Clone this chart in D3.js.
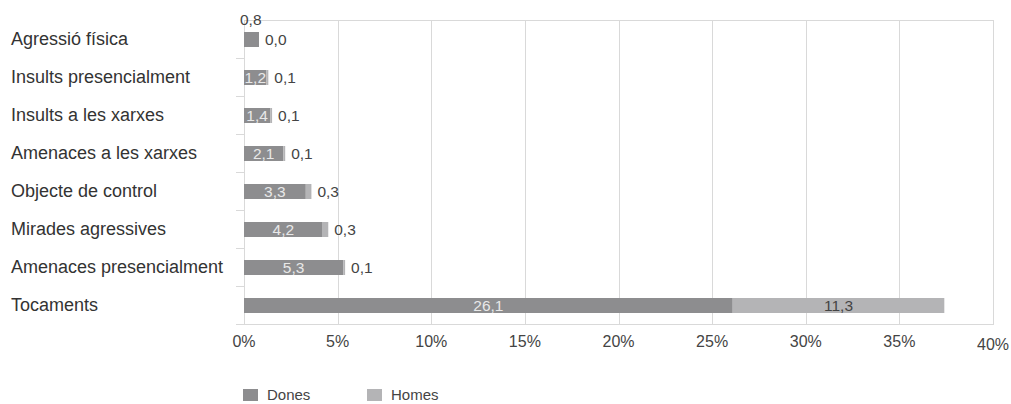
<!DOCTYPE html>
<html><head><meta charset="utf-8">
<script src="https://cdn.jsdelivr.net/npm/d3@7"></script>
<style>body{margin:0;background:#fff}text{font-family:"Liberation Sans",Arial,Helvetica,sans-serif}</style>
</head><body><svg id="c" width="1011" height="404"></svg>
<script>
const categories = ["Agressió física","Insults presencialment","Insults a les xarxes","Amenaces a les xarxes","Objecte de control","Mirades agressives","Amenaces presencialment","Tocaments"];
const dones = [0.8,1.2,1.4,2.1,3.3,4.2,5.3,26.1];
const homes = [0.0,0.1,0.1,0.1,0.3,0.3,0.1,11.3];
const xTicks = [0,5,10,15,20,25,30,35,40];
const seriesNames = ["Dones","Homes"];
const colors = ["#8d8d8f","#b4b4b6"];

const svg = d3.select("#c");
const L = 244, R = 993, T = 20, B = 324;
const x = d3.scaleLinear().domain([0,40]).range([L,R]);
const yb = d3.scaleBand().domain(categories).range([T,B]);
const BH = 15;
const fmt = v => d3.format(".1f")(v).replace(".",",");
const grid = "#d9d9d9";

// grid
svg.append("g").selectAll("line").data(xTicks.slice(1)).join("line")
  .attr("x1",d=>Math.round(x(d))+0.5).attr("x2",d=>Math.round(x(d))+0.5).attr("y1",T).attr("y2",B)
  .attr("stroke",grid).attr("stroke-width",1);
svg.append("line").attr("x1",L).attr("x2",R).attr("y1",T+0.5).attr("y2",T+0.5).attr("stroke",grid);
svg.append("line").attr("x1",L).attr("x2",R+1).attr("y1",B+0.5).attr("y2",B+0.5).attr("stroke",grid);
// y axis line + ticks
svg.append("line").attr("x1",L+0.5).attr("x2",L+0.5).attr("y1",T).attr("y2",B+1).attr("stroke",grid);
svg.append("g").selectAll("line").data(categories.slice(1)).join("line")
  .attr("x1",L-8).attr("x2",L).attr("y1",d=>Math.round(yb(d))+0.5).attr("y2",d=>Math.round(yb(d))+0.5).attr("stroke",grid);
svg.append("line").attr("x1",L-8).attr("x2",L).attr("y1",B+0.5).attr("y2",B+0.5).attr("stroke",grid);

// x labels
svg.append("g").selectAll("text").data(xTicks).join("text")
  .attr("x",d=>x(d)).attr("y",d=>d===40?350:347).attr("text-anchor","middle")
  .attr("font-size",16).attr("fill","#444").text(d=>d+"%");
// categories
svg.append("g").selectAll("text").data(categories).join("text")
  .attr("x",11).attr("y",d=>yb(d)+yb.bandwidth()/2+6).attr("font-size",18).attr("fill","#333").text(d=>d);

// bars
const g = svg.append("g");
categories.forEach((c,i)=>{
  const cy = yb(c)+yb.bandwidth()/2 + 0.5;
  g.append("rect").attr("x",x(0)).attr("y",cy-BH/2).attr("width",x(dones[i])-x(0)).attr("height",BH).attr("fill",colors[0]);
  g.append("rect").attr("x",x(dones[i])).attr("y",cy-BH/2).attr("width",x(dones[i]+homes[i])-x(dones[i])).attr("height",BH).attr("fill",colors[1]);
  const dw = x(dones[i])-x(0);
  if (dw > 20) {
    g.append("text").attr("x",(x(0)+x(dones[i]))/2).attr("y",cy+5.5).attr("text-anchor","middle")
      .attr("font-size",15.5).attr("fill","#e8e8e8").text(fmt(dones[i]));
  } else {
    g.append("text").attr("x",x(0)-4).attr("y",cy-14.5)
      .attr("font-size",15.5).attr("fill","#444").text(fmt(dones[i]));
  }
  const hw = x(dones[i]+homes[i])-x(dones[i]);
  if (hw > 40) {
    g.append("text").attr("x",(x(dones[i])+x(dones[i]+homes[i]))/2).attr("y",cy+5.5).attr("text-anchor","middle")
      .attr("font-size",15.5).attr("fill","#444").text(fmt(homes[i]));
  } else {
    g.append("text").attr("x",x(dones[i]+homes[i])+6).attr("y",cy+5.5).attr("font-size",15.5).attr("fill","#444").text(fmt(homes[i]));
  }
});

// legend
const lg = svg.append("g");
seriesNames.forEach((s,i)=>{
  const lx = 243 + i*124;
  lg.append("rect").attr("x",lx).attr("y",389).attr("width",15).attr("height",12).attr("fill",colors[i]);
  lg.append("text").attr("x",lx+24).attr("y",400).attr("font-size",15).attr("fill","#444").text(s);
});
</script></body></html>
